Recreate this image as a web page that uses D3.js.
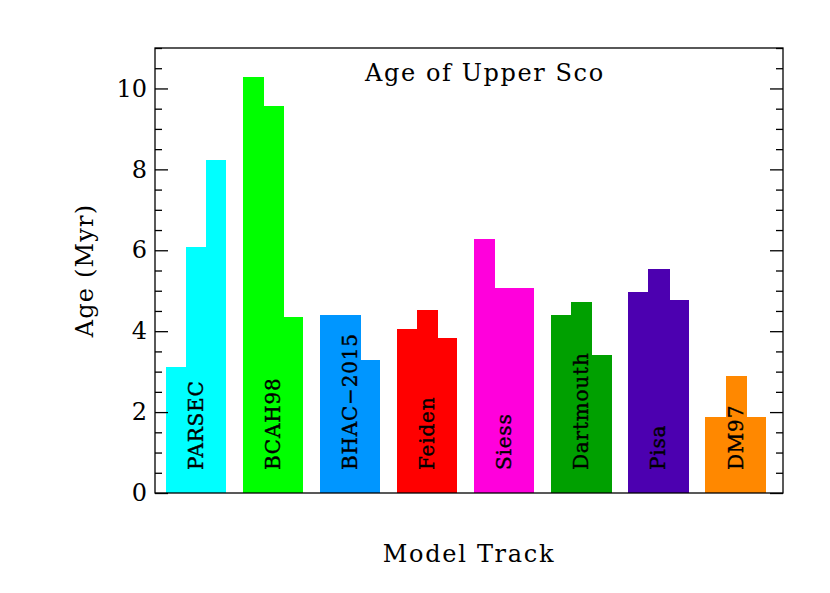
<!DOCTYPE html>
<html>
<head>
<meta charset="utf-8">
<script src="https://cdn.jsdelivr.net/npm/d3@7"></script>
<style>
  body { margin: 0; background: #fff; }
  text { font-family: "DejaVu Serif", serif; fill: #000; }
</style>
</head>
<body>
<div id="chart"></div>
<script>
// Chart data
const models = ["PARSEC", "BCAH98", "BHAC\u22122015", "Feiden", "Siess", "Dartmouth", "Pisa", "DM97"];
const ages = [
    [3.11, 6.08, 8.23],
    [10.29, 9.57, 4.36],
    [4.39, 4.40, 3.30],
    [4.05, 4.52, 3.84],
    [6.29, 5.06, 5.06],
    [4.39, 4.73, 3.42],
    [4.96, 5.53, 4.78],
    [1.88, 2.88, 1.88],
];
const colors = ["#00ffff", "#00ff00", "#0096ff", "#ff0000", "#ff00dc", "#00a000", "#4c00b0", "#ff8800"];
const majorTicks = [0, 2, 4, 6, 8, 10];
const minorTicks = d3.range(0, 11.01, 0.5).filter((d) => d % 2 !== 0);

let width = 830;
let height = 593;
let margin = { top: 48, right: 47, bottom: 100, left: 155 };

let svg = d3
    .select("#chart")
    .append("svg")
    .attr("width", width)
    .attr("height", height);

let x = d3
    .scaleBand()
    .domain(models)
    .range([margin.left, width - margin.right])
    .paddingInner(0.218)
    .paddingOuter(0.18)
    .align(0.38);

let sub = d3.scaleBand().domain([0, 1, 2]).range([0, x.bandwidth()]);

let y = d3
    .scaleLinear()
    .domain([0, 11])
    .range([height - margin.bottom, margin.top]);

// Bars, three per model
let groups = svg
    .append("g")
    .selectAll("g")
    .data(models)
    .enter()
    .append("g")
    .attr("transform", (d) => "translate(" + x(d) + ",0)");

groups
    .selectAll("rect")
    .data((d, i) => ages[i].map((v) => ({ v: v, c: colors[i] })))
    .enter()
    .append("rect")
    .attr("x", (d, j) => sub(j))
    .attr("width", (d, j) => sub.bandwidth() + (j < 2 ? 1 : 0))
    .attr("y", (d) => y(d.v))
    .attr("height", (d) => y(0) - y(d.v))
    .attr("fill", (d) => d.c)
    .attr("shape-rendering", "crispEdges");

// Model names written upwards inside each group
groups
    .append("text")
    .attr("transform", "translate(" + x.bandwidth() / 2 + "," + (y(0) - 23) + ") rotate(-90)")
    .attr("dominant-baseline", "central")
    .style("font-size", "20px")
    .style("letter-spacing", "0.8px")
    .style("stroke", "#000")
    .style("stroke-width", 0.4)
    .text((d) => d);

// Axes: ticks point inward on left and right, none on top and bottom
const axisStyle = (g) => {
    g.select(".domain").remove();
    g.selectAll("line").attr("stroke", "#000").attr("stroke-width", 1.3);
};

svg.append("g")
    .attr("transform", "translate(" + margin.left + ",0)")
    .call(d3.axisLeft(y).tickValues(majorTicks).tickSizeInner(-13).tickSizeOuter(0).tickPadding(8))
    .call(axisStyle)
    .selectAll("text")
    .style("font-family", "DejaVu Serif")
    .style("font-size", "24px");

svg.append("g")
    .attr("transform", "translate(" + margin.left + ",0)")
    .call(d3.axisLeft(y).tickValues(minorTicks).tickSizeInner(-7).tickSizeOuter(0).tickFormat(""))
    .call(axisStyle);

svg.append("g")
    .attr("transform", "translate(" + (width - margin.right) + ",0)")
    .call(d3.axisRight(y).tickValues(majorTicks).tickSizeInner(-13).tickSizeOuter(0).tickFormat(""))
    .call(axisStyle);

svg.append("g")
    .attr("transform", "translate(" + (width - margin.right) + ",0)")
    .call(d3.axisRight(y).tickValues(minorTicks).tickSizeInner(-7).tickSizeOuter(0).tickFormat(""))
    .call(axisStyle);

// Frame
svg.append("rect")
    .attr("x", margin.left)
    .attr("y", margin.top)
    .attr("width", width - margin.left - margin.right)
    .attr("height", height - margin.top - margin.bottom)
    .attr("fill", "none")
    .attr("stroke", "#000")
    .attr("stroke-width", 1.3);

// Titles
svg.append("text")
    .attr("x", 365)
    .attr("y", 81)
    .style("font-size", "24px")
    .style("letter-spacing", "1.6px")
    .text("Age of Upper Sco");

svg.append("text")
    .attr("x", (margin.left + width - margin.right) / 2)
    .attr("y", 562)
    .attr("text-anchor", "middle")
    .style("font-size", "24px")
    .style("letter-spacing", "1.7px")
    .text("Model Track");

svg.append("text")
    .attr("transform", "translate(85," + (y(0) + y(11)) / 2 + ") rotate(-90)")
    .attr("text-anchor", "middle")
    .attr("dominant-baseline", "central")
    .style("font-size", "24px")
    .style("letter-spacing", "1.2px")
    .text("Age (Myr)");
</script>
</body>
</html>
